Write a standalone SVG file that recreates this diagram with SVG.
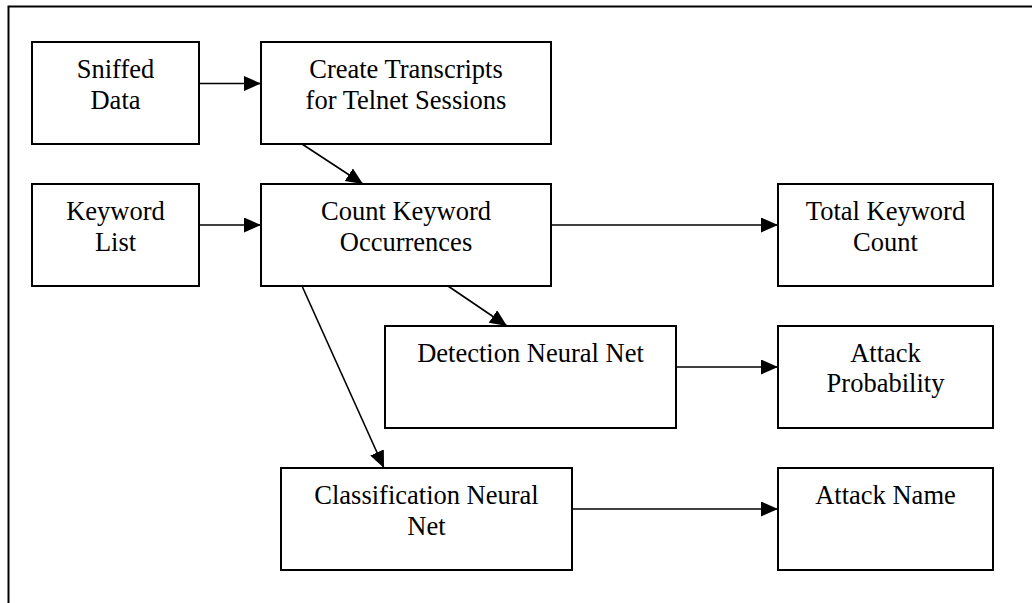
<svg xmlns="http://www.w3.org/2000/svg" width="1032" height="603" viewBox="0 0 1032 603">
<style>
.box{fill:#fff;stroke:#000;stroke-width:2}
.t{font-family:"Liberation Serif","Times New Roman",serif;font-size:26.5px;fill:#000;text-anchor:middle}
.c{stroke:#000;stroke-width:1.6;fill:none;marker-end:url(#ah)}
</style>
<defs>
<marker id="ah" markerUnits="userSpaceOnUse" markerWidth="18" markerHeight="16" refX="17" refY="7.5" orient="auto">
<path d="M0,0 L17,7.5 L0,15 Z" fill="#000"/>
</marker>
</defs>
<rect width="1032" height="603" fill="#fff"/>
<path d="M8.5,603 V6.5 H1032" fill="none" stroke="#000" stroke-width="2"/>
<g id="connectors">
<line class="c" x1="199" y1="83.5" x2="261" y2="83.5"/>
<line class="c" x1="199" y1="225" x2="261" y2="225"/>
<line class="c" x1="302" y1="144" x2="363" y2="184"/>
<line class="c" x1="551" y1="225" x2="778" y2="225"/>
<line class="c" x1="448" y1="286" x2="507" y2="326"/>
<line class="c" x1="302" y1="286" x2="384" y2="468"/>
<line class="c" x1="676" y1="367" x2="778" y2="367"/>
<line class="c" x1="572" y1="509" x2="778" y2="509"/>
</g>
<g id="sniffed">
<rect class="box" x="32" y="42" width="167" height="102"/>
<text class="t" x="115.5" y="77.5">Sniffed</text>
<text class="t" x="115.5" y="108.5">Data</text>
</g>
<g id="transcripts">
<rect class="box" x="261" y="42" width="290" height="102"/>
<text class="t" x="406" y="77.5">Create Transcripts</text>
<text class="t" x="406" y="108.5">for Telnet Sessions</text>
</g>
<g id="keywords">
<rect class="box" x="32" y="184" width="167" height="102"/>
<text class="t" x="115.5" y="219.5">Keyword</text>
<text class="t" x="115.5" y="250.5">List</text>
</g>
<g id="count">
<rect class="box" x="261" y="184" width="290" height="102"/>
<text class="t" x="406" y="219.5">Count Keyword</text>
<text class="t" x="406" y="250.5">Occurrences</text>
</g>
<g id="total">
<rect class="box" x="778" y="184" width="215" height="102"/>
<text class="t" x="885.5" y="219.5">Total Keyword</text>
<text class="t" x="885.5" y="250.5">Count</text>
</g>
<g id="detection">
<rect class="box" x="385" y="326" width="291" height="102"/>
<text class="t" x="530.5" y="361.5">Detection Neural Net</text>
</g>
<g id="probability">
<rect class="box" x="778" y="326" width="215" height="102"/>
<text class="t" x="885.5" y="361.5">Attack</text>
<text class="t" x="885.5" y="392">Probability</text>
</g>
<g id="classification">
<rect class="box" x="281" y="468" width="291" height="102"/>
<text class="t" x="426.5" y="503.5">Classification Neural</text>
<text class="t" x="426.5" y="534.5">Net</text>
</g>
<g id="attackname">
<rect class="box" x="778" y="468" width="215" height="102"/>
<text class="t" x="885.5" y="503.5">Attack Name</text>
</g>
</svg>
